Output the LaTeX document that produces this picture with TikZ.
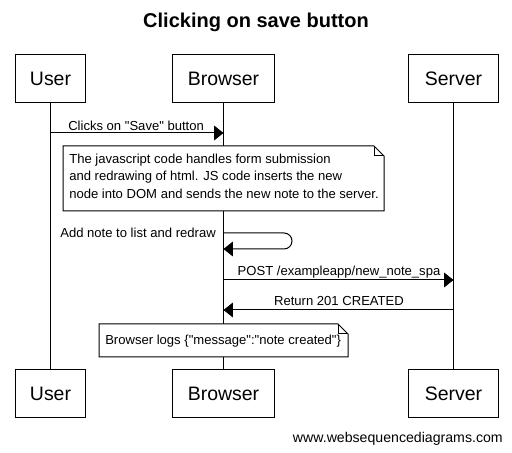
\documentclass[tikz,border=0pt]{standalone}
\usepackage{fontspec}
\setmainfont{Liberation Sans}[Ligatures=TeXOff]
\usetikzlibrary{arrows.meta}
\newcommand{\qq}{\symbol{34}}
\begin{document}
\begin{tikzpicture}[x=0.75pt,y=-0.75pt,
  actor/.style={draw,line width=0.75pt,minimum width=#1,minimum height=36pt,inner sep=0pt,font=\fontsize{14.6pt}{17pt}\selectfont},
  msg/.style={line width=0.75pt,-{Triangle[length=7pt,width=11pt]}},
  life/.style={line width=0.75pt},
  lbl/.style={inner sep=0pt,font=\fontsize{9.8pt}{12pt}\selectfont},
  notebox/.style={draw,line width=0.75pt,fill=white}]
\useasboundingbox (0,0) rectangle (512,453);
\node[font=\bfseries\fontsize{15pt}{18pt}\selectfont] (title) at (256,22) {Clicking on save button};
% actors
\node[actor=53pt] (userT) at (50.5,78.5) {User};
\node[actor=77pt] (browT) at (223.5,78.5) {Browser};
\node[actor=67pt] (servT) at (453.5,78.5) {Server};
\node[actor=53pt] (userB) at (50.5,394) {User};
\node[actor=77pt] (browB) at (223.5,394) {Browser};
\node[actor=67pt] (servB) at (453.5,394) {Server};
% lifelines
\draw[life] (userT.south) -- (userB.north);
\draw[life] (browT.south) -- (browB.north);
\draw[life] (servT.south) -- (servB.north);
% message 1
\coordinate (m1a) at (userT.south |- 0,133);
\coordinate (m1b) at (browT.south |- 0,133);
\draw[msg] (m1a) -- (m1b);
\node[lbl,anchor=base west] (m1l) at (68,131) {Clicks on \qq Save\qq{} button};
% note 1
\draw[notebox] (63,146) -- (374,146) -- (384,156) -- (384,211) -- (63,211) -- cycle;
\draw[line width=0.75pt] (374,146) -- (374,156) -- (384,156);
\node[lbl,anchor=north west,align=left,font=\fontsize{9.8pt}{13.2pt}\selectfont] (n1) at (69,153.5)
 {The javascript code handles form submission\\and redrawing of html. JS code inserts the new\\node into DOM and sends the new note to the server.};
% self message
\coordinate (s1a) at (browT.south |- 0,233);
\coordinate (s1b) at (browT.south |- 0,249);
\draw[msg,rounded corners=6pt] (s1a) -- (292,233) -- (292,249) -- (s1b);
\node[lbl,anchor=base east] (s1l) at (216,238) {Add note to list and redraw};
% POST
\coordinate (m2a) at (browT.south |- 0,280);
\coordinate (m2b) at (servT.south |- 0,280);
\draw[msg] (m2a) -- (m2b);
\node[lbl,anchor=base] (m2l) at (339,276) {POST /exampleapp/new\_note\_spa};
% Return
\coordinate (m3a) at (servT.south |- 0,310);
\coordinate (m3b) at (browT.south |- 0,310);
\draw[msg] (m3a) -- (m3b);
\node[lbl,anchor=base] (m3l) at (339,306) {Return 201 CREATED};
% note 2
\draw[notebox] (99,324) -- (338,324) -- (348,334) -- (348,357) -- (99,357) -- cycle;
\draw[line width=0.75pt] (338,324) -- (338,334) -- (348,334);
\node[lbl,anchor=base west] (n2) at (105,345) {Browser logs \{\qq message\qq:\qq note created\qq\}};
% footer
\node[anchor=base east,inner sep=0pt,font=\fontsize{10.6pt}{12pt}\selectfont] (foot) at (503,443) {www.websequencediagrams.com};
\end{tikzpicture}
\end{document}
